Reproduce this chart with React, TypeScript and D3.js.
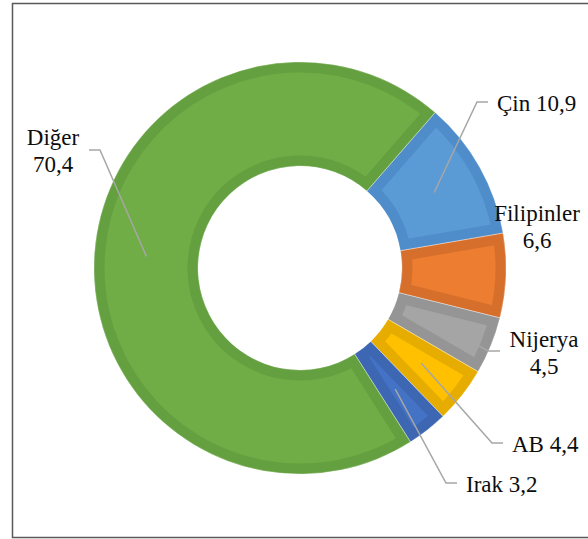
import React from "react";
import * as d3 from "d3";

const categories = ["Çin", "Filipinler", "Nijerya", "AB", "Irak", "Diğer"];
const values = [10.9, 6.6, 4.5, 4.4, 3.2, 70.4];
const labelLines = [["Çin 10,9"], ["Filipinler", "6,6"], ["Nijerya", "4,5"], ["AB 4,4"], ["Irak 3,2"], ["Diğer", "70,4"]];
const fillColors = ["#5B9BD5", "#ED7D31", "#A5A5A5", "#FFC000", "#4472C4", "#70AD47"];
const edgeColors = ["#4F8DCA", "#D56F2B", "#959595", "#E6AD00", "#3D67B2", "#64A03F"];

// label layout: text anchor point, alignment, and leader line (end, elbow) if any
const labelLayout: Record<string, any> = {
  "Çin": { x: 497, y: 111, anchor: "start", leader: [[488, 102], [477, 102]] },
  "Filipinler": { x: 537, y: 221, anchor: "middle", leader: null },
  "Nijerya": { x: 544, y: 347, anchor: "middle", leader: [[500, 351], [488, 351]] },
  "AB": { x: 512, y: 452, anchor: "start", leader: [[503, 443], [492, 443]] },
  "Irak": { x: 466, y: 492, anchor: "start", leader: [[457, 483], [446, 483]] },
  "Diğer": { x: 53, y: 145, anchor: "middle", leader: [[89, 150], [100, 150]] },
};

const width = 588;
const height = 539;
const cx = 300, cy = 268;
const outer = 206, inner = 102;
const offset = (41 * Math.PI) / 180;
const serif = "Liberation Serif";

const DonutChart: React.FC = () => {
  const data = categories.map((c, i) => ({ name: c, value: values[i], i }));
  const pie = d3.pie<any>().value((d) => d.value).sort(null)
    .startAngle(offset).endAngle(offset + Math.PI * 2);
  const arcs = pie(data);
  const arc = d3.arc<any>().innerRadius(inner).outerRadius(outer);
  const line = d3.line();

  return (
    <svg width={width} height={height} style={{ position: "absolute", left: 0, top: 0, display: "block" }}>
      <rect x={12.5} y={3.5} width={600} height={534} fill="#fff" stroke="#595959" strokeWidth={1.5} />
      <defs>
        {arcs.map((a, i) => (
          <clipPath id={`slice-clip-${i}`} key={i}>
            <path d={arc(a) as string} />
          </clipPath>
        ))}
      </defs>
      <g transform={`translate(${cx},${cy})`}>
        {arcs.map((a, i) => (
          <path
            key={i}
            d={arc(a) as string}
            fill={fillColors[i]}
            stroke={edgeColors[i]}
            strokeWidth={21}
            strokeLinejoin="miter"
            clipPath={`url(#slice-clip-${i})`}
          />
        ))}
        {arcs.map((a, i) => (
          <path key={"s" + i} d={arc(a) as string} fill="none" stroke="#fff" strokeOpacity={0.5} strokeWidth={0.6} />
        ))}
      </g>
      {arcs.map((a, i) => {
        const lay = labelLayout[a.data.name];
        if (!lay.leader) return null;
        const [c0, c1] = arc.centroid(a);
        const pts: [number, number][] = [lay.leader[0], lay.leader[1], [cx + c0, cy + c1]];
        return <path key={"l" + i} d={line(pts) as string} fill="none" stroke="#A6A6A6" strokeWidth={1.5} />;
      })}
      {arcs.map((a, i) => {
        const lay = labelLayout[a.data.name];
        return labelLines[i].map((ln, k) => (
          <text
            key={"t" + i + "-" + k}
            x={lay.x}
            y={lay.y + k * 27}
            textAnchor={lay.anchor}
            fill="#0d0d0d"
            fontFamily={serif}
            fontSize={23}
            style={{ fontFamily: `"${serif}"`, fontSize: "23px" }}
          >
            {ln}
          </text>
        ));
      })}
    </svg>
  );
};

export default function App() {
  return <DonutChart />;
}
